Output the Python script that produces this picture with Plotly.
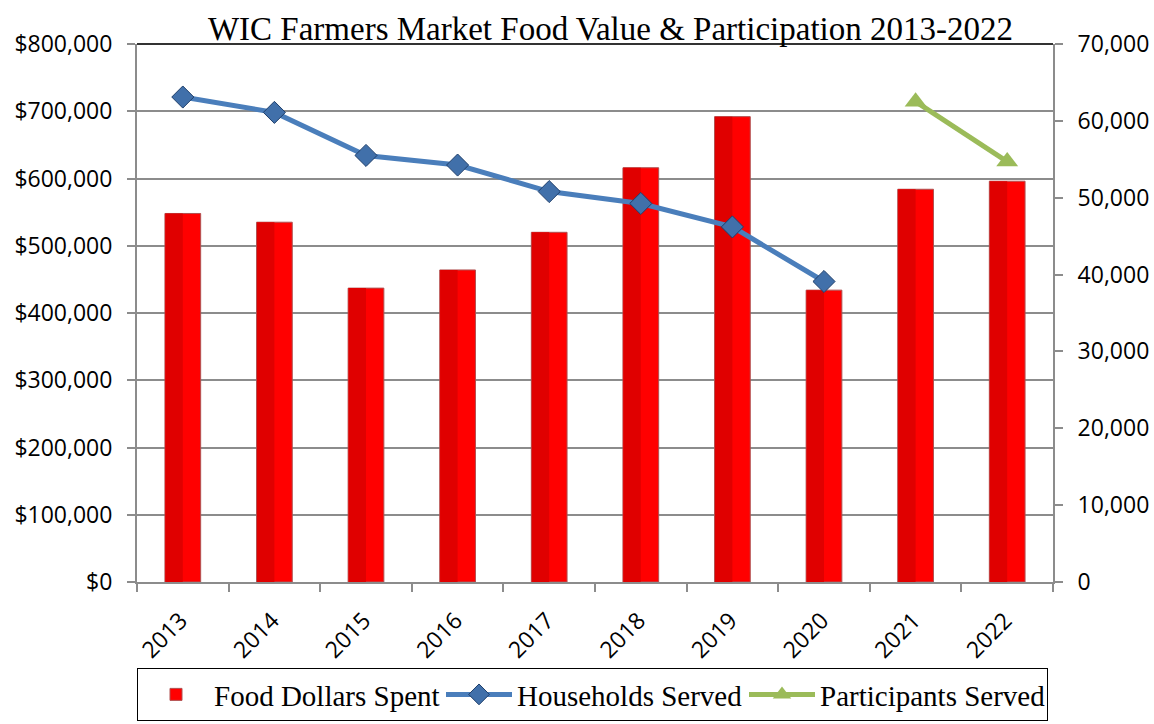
import plotly.graph_objects as go

years = ["2013", "2014", "2015", "2016", "2017", "2018", "2019", "2020", "2021", "2022"]
food_dollars = [548000, 535000, 437000, 464000, 520000, 616000, 692000, 434000, 584000, 596000]
households = [63100, 61100, 55500, 54250, 50800, 49250, 46200, 39100, None, None]
participants = [None, None, None, None, None, None, None, None, 62500, 54700]

left_ticks = [0, 100000, 200000, 300000, 400000, 500000, 600000, 700000, 800000]
left_labels = ["$0", "$100,000", "$200,000", "$300,000", "$400,000",
               "$500,000", "$600,000", "$700,000", "$800,000"]
right_ticks = [0, 10000, 20000, 30000, 40000, 50000, 60000, 70000]
right_labels = ["0", "10,000", "20,000", "30,000", "40,000", "50,000", "60,000", "70,000"]

sans = "Open Sans"
serif = "Liberation Serif"

fig = go.Figure()
fig.add_trace(go.Bar(
    x=years, y=food_dollars, name="Food Dollars Spent",
    marker=dict(color="#FF0000", line=dict(color="#B05050", width=1)),
    width=0.39,
))
# darker left half of each bar (shading)
fig.add_trace(go.Bar(
    x=years, y=food_dollars, name="Food Dollars Spent", showlegend=False,
    hoverinfo="skip",
    marker=dict(color="#E00000", line=dict(width=0)),
    width=0.19, offset=-0.19,
))
fig.add_trace(go.Scatter(
    x=years, y=households, name="Households Served", yaxis="y2",
    mode="lines+markers",
    line=dict(color="#4A7EBB", width=5),
    marker=dict(symbol="diamond", size=17, color="#4170AA",
                line=dict(color="#1F3F6B", width=1)),
))
fig.add_trace(go.Scatter(
    x=years, y=participants, name="Participants Served", yaxis="y2",
    mode="lines+markers",
    line=dict(color="#9BBB59", width=5),
    marker=dict(symbol="triangle-up", size=19, color="#9BBB59"),
))

fig.update_layout(
    width=1154, height=724,
    margin=dict(l=137, r=101, t=44, b=142),
    paper_bgcolor="white", plot_bgcolor="white",
    barmode="overlay",
    title=dict(text="WIC Farmers Market Food Value & Participation 2013-2022",
               font=dict(family=serif, size=33, color="black"),
               x=0.529, xanchor="center", y=0.9613, yanchor="middle"),
    xaxis=dict(
        type="category", range=[-0.5, 9.5], showgrid=False, automargin=False,
        showline=True, linecolor="#8C8C8C", linewidth=2,
        ticks="outside", tickson="boundaries", ticklen=8, tickcolor="#8C8C8C", tickwidth=2,
        tickangle=-45, tickfont=dict(family=sans, size=23, color="black"),
        ticklabelshift=-2, ticklabelstandoff=14,
    ),
    yaxis=dict(
        range=[0, 800000], tickvals=left_ticks, ticktext=left_labels, automargin=False,
        showgrid=True, gridcolor="#8C8C8C", gridwidth=2,
        showline=True, linecolor="#8C8C8C", linewidth=2,
        ticks="outside", ticklen=8, tickcolor="#8C8C8C", tickwidth=2,
        tickfont=dict(family=sans, size=23, color="black"),
        ticklabelstandoff=10,
        zeroline=False,
    ),
    yaxis2=dict(
        range=[0, 70000], tickvals=right_ticks, ticktext=right_labels, automargin=False,
        overlaying="y", side="right", showgrid=False,
        showline=True, linecolor="#8C8C8C", linewidth=2,
        ticks="outside", ticklen=8, tickcolor="#8C8C8C", tickwidth=2,
        tickfont=dict(family=sans, size=23, color="black"),
        ticklabelstandoff=10,
        zeroline=False,
    ),
    legend=dict(
        orientation="h", x=0, xanchor="left",
        yref="container", y=0.0773, yanchor="top",
        bordercolor="black", borderwidth=1,
        font=dict(family=serif, size=29, color="black"),
        itemwidth=66, entrywidth=222, entrywidthmode="pixels",
    ),
    shapes=[dict(type="line", xref="paper", yref="paper", x0=0, x1=1, y0=1, y1=1,
                 line=dict(color="#333333", width=2))],
)

fig.write_html("out.html", config={"displayModeBar": False},
               post_script="document.body.style.margin='0';")
